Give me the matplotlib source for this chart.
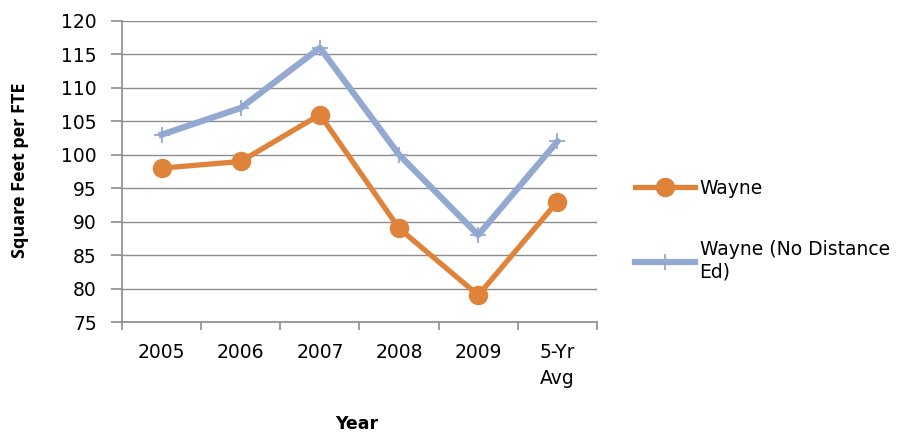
import matplotlib
matplotlib.use("Agg")
import matplotlib.pyplot as plt
import numpy as np

categories = ["2005", "2006", "2007", "2008", "2009", "5-Yr\nAvg"]
wayne = [98, 99, 106, 89, 79, 93]
wayne_no_de = [103, 107, 116, 100, 88, 102]
series_names = ["Wayne", "Wayne (No Distance\nEd)"]
y_ticks = list(range(75, 121, 5))

orange = "#DF823A"
blue = "#93A9D1"
grid_gray = "#8C8C8C"
tick_font = 13.5

fig = plt.figure(figsize=(9.17, 4.32), dpi=100)
ax = fig.add_axes([122 / 917, 1 - 322 / 432, (597 - 122) / 917, (322 - 21) / 432])

x = np.arange(len(categories))
ax.plot(x, wayne_no_de, color=blue, lw=4.5, marker="+", markersize=12,
        markeredgewidth=1.3, markeredgecolor=blue, label=series_names[1], zorder=3)
ax.plot(x, wayne, color=orange, lw=3.8, marker="o", markersize=13,
        markerfacecolor=orange, markeredgecolor=orange, label=series_names[0], zorder=4)

ax.set_xlim(-0.5, len(categories) - 0.5)
ax.set_ylim(75, 120)
ax.set_yticks(y_ticks)
ax.set_yticklabels([str(v) for v in y_ticks], fontsize=tick_font, family="DejaVu Sans")
ax.yaxis.grid(True, color=grid_gray, lw=1)
ax.set_axisbelow(True)

# category labels centred between boundary ticks
ax.set_xticks(np.arange(-0.5, len(categories), 1.0))
ax.set_xticklabels([])
ax.set_xticks(x, minor=True)
ax.set_xticklabels(categories, minor=True, fontsize=tick_font, family="DejaVu Sans",
                   va="top", linespacing=1.5)
ax.tick_params(axis="x", which="minor", length=0, pad=15)
ax.tick_params(axis="x", which="major", length=6, color=grid_gray, width=1.2, direction="out")
ax.tick_params(axis="y", length=8, color=grid_gray, width=1.2, direction="out", pad=10)

for side in ["top", "right"]:
    ax.spines[side].set_visible(False)
for side in ["left", "bottom"]:
    ax.spines[side].set_color(grid_gray)
    ax.spines[side].set_linewidth(1.2)

fig.text(20 / 917, 1 - 170 / 432, "Square Feet per FTE", rotation=90,
         ha="center", va="center", fontsize=13, fontweight="bold",
         family=["Liberation Sans Narrow", "Open Sans", "DejaVu Sans"])
fig.text(357 / 917, 1 - 424 / 432, "Year", ha="center", va="center",
         fontsize=12.5, fontweight="bold", family="DejaVu Sans")

handles, labels = ax.get_legend_handles_labels()
leg = fig.legend([handles[1], handles[0]], [labels[1], labels[0]],
                 loc="upper left", bbox_to_anchor=(618 / 917, 1 - 162 / 432),
                 frameon=False, handlelength=3.2, handletextpad=0.25,
                 labelspacing=2.25, prop={"family": "DejaVu Sans", "size": tick_font})

fig.savefig("out.png", dpi=100)
